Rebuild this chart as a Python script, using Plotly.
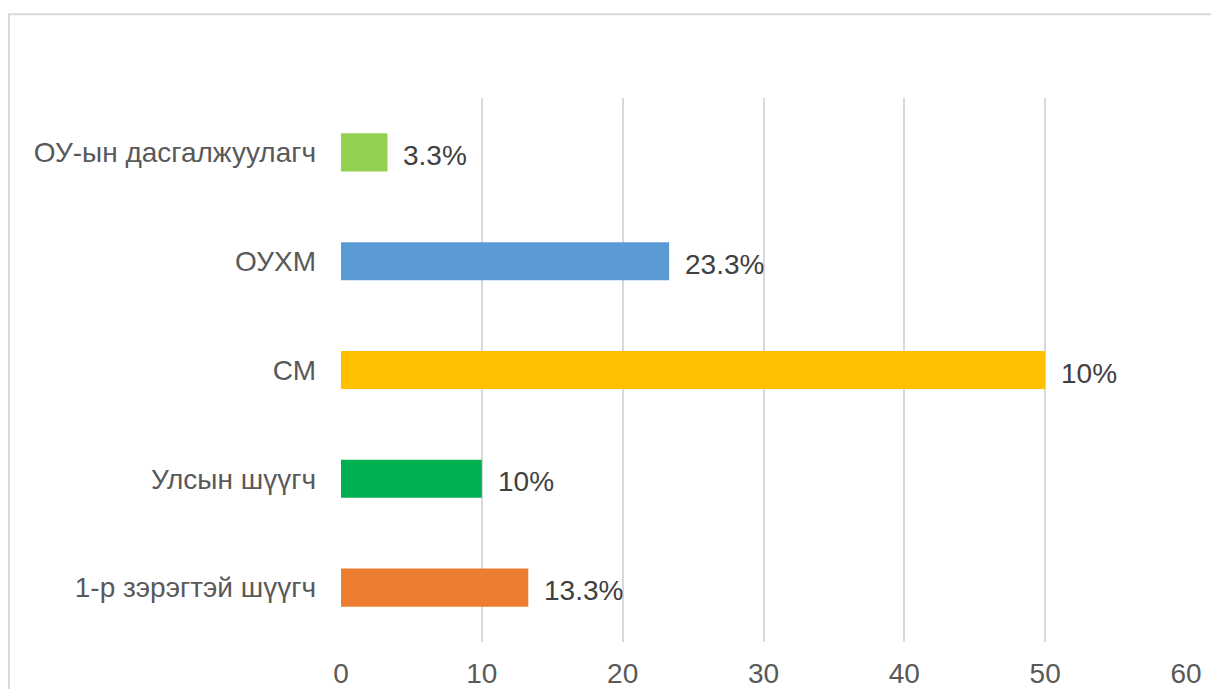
import plotly.graph_objects as go

categories = ["1-р зэрэгтэй шүүгч", "Улсын шүүгч", "СМ", "ОУХМ", "ОУ-ын дасгалжуулагч"]
values = [13.3, 10, 50, 23.3, 3.3]
labels = ["13.3%", "10%", "10%", "23.3%", "3.3%"]
colors = ["#ED7D31", "#00B050", "#FFC000", "#5B9BD5", "#92D050"]
x_ticks = [0, 10, 20, 30, 40, 50, 60]

FONT = "Liberation Sans, Arial"

fig = go.Figure()
fig.add_trace(go.Bar(
    x=values, y=categories, orientation="h",
    marker=dict(color=colors, line=dict(width=0)),
    width=0.35, hoverinfo="skip", showlegend=False,
))

for v, c, t in zip(values, categories, labels):
    fig.add_annotation(x=v, y=c, text=t, showarrow=False, xanchor="left",
                       xshift=14, yshift=-3,
                       font=dict(family=FONT, size=28, color="#404040"))

fig.add_shape(type="rect", xref="paper", yref="paper",
              x0=-0.393, x1=1.2, y0=-0.3, y1=1.154,
              line=dict(color="#D9D9D9", width=2), fillcolor="rgba(0,0,0,0)", layer="below")

fig.update_layout(
    width=1211, height=681,
    margin=dict(l=333, r=33, t=90, b=47, pad=0, autoexpand=False),
    paper_bgcolor="white", plot_bgcolor="white",
    font=dict(family=FONT, size=28, color="#595959"),
    xaxis=dict(range=[0, 60], tickvals=x_ticks, showgrid=True, gridcolor="#D9D9D9",
               gridwidth=1.5, zeroline=False, showline=False, ticks="", automargin=False,
               ticklabelstandoff=12, tickfont=dict(size=28, color="#595959"), fixedrange=True),
    yaxis=dict(categoryorder="array", categoryarray=categories, showgrid=False,
               zeroline=False, showline=False, ticks="", ticklabelstandoff=24, automargin=False,
               tickfont=dict(size=28, color="#595959"), range=[-0.5, 4.5]),
)

fig.write_html("out.html")
